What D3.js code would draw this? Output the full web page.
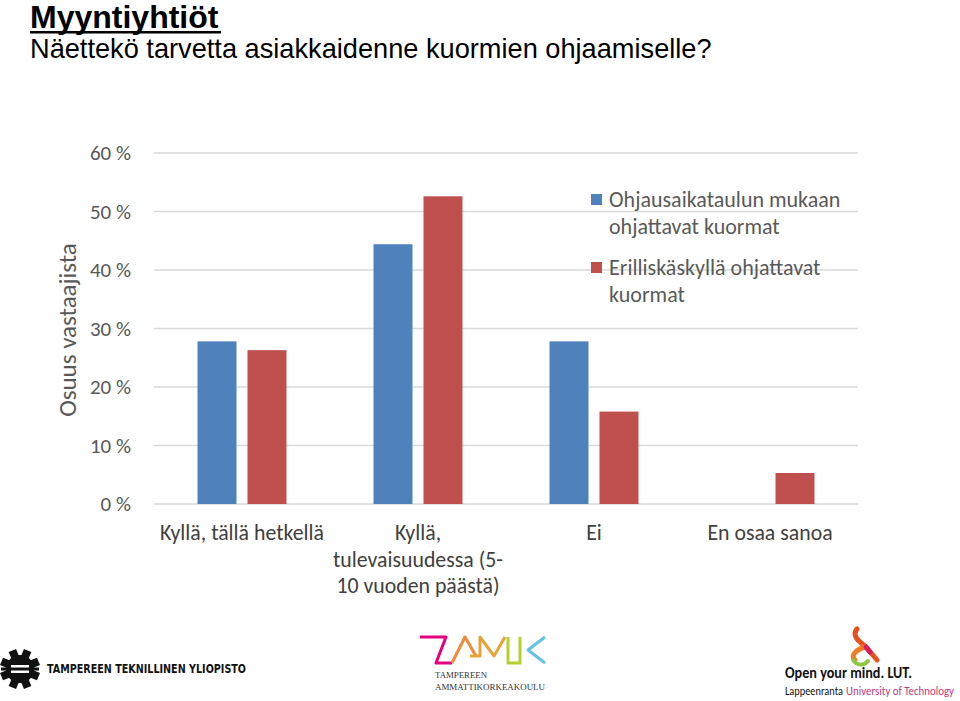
<!DOCTYPE html>
<html><head><meta charset="utf-8">
<script src="https://cdn.jsdelivr.net/npm/d3@7"></script>
<style>body{margin:0;background:#fff;} svg{display:block;}</style>
</head><body>
<script>
const categories = [["Kyllä, tällä hetkellä"], ["Kyllä,", "tulevaisuudessa (5-", "10 vuoden päästä)"], ["Ei"], ["En osaa sanoa"]];
const seriesNames = [["Ohjausaikataulun mukaan", "ohjattavat kuormat"], ["Erilliskäskyllä ohjattavat", "kuormat"]];
const seriesA = [0.278, 0.444, 0.278, 0];
const seriesB = [0.263, 0.526, 0.158, 0.053];
const yTicks = [0, 0.1, 0.2, 0.3, 0.4, 0.5, 0.6];
const colors = ["#4f81bd", "#c0504d"];

const W = 960, H = 701;
const svg = d3.select("body").append("svg").attr("width", W).attr("height", H);
const font = "Carlito, Lato, 'Open Sans', sans-serif";

// Titles
svg.append("text").attr("x", 30).attr("y", 28).attr("font-family", "Arial, 'Liberation Sans', sans-serif")
  .attr("font-weight", "bold").attr("font-size", 32).attr("fill", "#000").text("Myyntiyhtiöt");
svg.append("rect").attr("x", 30).attr("y", 31).attr("width", 191).attr("height", 2.5).attr("fill", "#000");
svg.append("text").attr("x", 30).attr("y", 58).attr("font-family", "Arial, 'Liberation Sans', sans-serif")
  .attr("font-size", 27.2).attr("fill", "#000").text("Näettekö tarvetta asiakkaidenne kuormien ohjaamiselle?");

const x0 = 154, x1 = 858, yTop = 153, yBot = 504;
const x = d3.scaleBand().domain(d3.range(categories.length)).range([x0, x1]).paddingInner(0).paddingOuter(0);
const xs = d3.scaleBand().domain([0, 1]).range([0, 89]).paddingInner(0.22);
const y = d3.scaleLinear().domain([0, 0.6]).range([yBot, yTop]);

// gridlines
svg.append("g").selectAll("line").data(yTicks).join("line")
  .attr("x1", x0).attr("x2", x1).attr("y1", d => y(d)).attr("y2", d => y(d))
  .attr("stroke", "#d9d9d9").attr("stroke-width", 1.5);

// y axis labels
const yAxis = d3.axisLeft(y).tickValues(yTicks).tickSize(0).tickPadding(0)
  .tickFormat(d => Math.round(d * 100) + " %");
const ya = svg.append("g").attr("transform", `translate(131,0)`).call(yAxis);
ya.select(".domain").remove();
ya.selectAll("text").attr("font-family", font).attr("font-size", 21).attr("fill", "#595959");

svg.append("text").attr("transform", `translate(76,330) rotate(-90)`).attr("text-anchor", "middle")
  .attr("font-family", font).attr("font-size", 25).attr("fill", "#595959").text("Osuus vastaajista");

// bars
const groups = svg.append("g").selectAll("g").data(categories.map((c, i) => i)).join("g")
  .attr("transform", i => `translate(${x(i) + (x.bandwidth() - 89) / 2},0)`);
groups.selectAll("rect").data(i => [seriesA[i], seriesB[i]]).join("rect")
  .attr("x", (d, j) => xs(j)).attr("width", xs.bandwidth())
  .attr("y", d => y(d)).attr("height", d => yBot - y(d))
  .attr("fill", (d, j) => colors[j]);

// x labels
categories.forEach((lines, i) => {
  const t = svg.append("text").attr("text-anchor", "middle").attr("font-family", font)
    .attr("font-size", 21.8).attr("fill", "#404040");
  lines.forEach((l, k) => t.append("tspan").attr("x", x(i) + x.bandwidth() / 2).attr("y", 540 + k * 26.5).text(l));
});

// legend
seriesNames.forEach((lines, j) => {
  const ly = 194 + j * 68;
  svg.append("rect").attr("x", 591).attr("y", ly).attr("width", 11).attr("height", 11).attr("fill", colors[j]);
  const t = svg.append("text").attr("font-family", font).attr("font-size", 22).attr("fill", "#595959");
  lines.forEach((l, k) => t.append("tspan").attr("x", 609).attr("y", ly + 13 + k * 27).text(l));
});

// ---- Logos ----
// TUT gear
const gear = svg.append("g").attr("transform", "translate(20,669)");
gear.append("circle").attr("r", 14).attr("fill", "#111");
for (let a = 0; a < 8; a++) {
  gear.append("rect").attr("x", -4).attr("y", -20).attr("width", 8).attr("height", 9).attr("fill", "#111")
    .attr("transform", `rotate(${a * 45 + 22.5})`);
}
gear.append("rect").attr("x", -9).attr("y", -4).attr("width", 18).attr("height", 8).attr("fill", "#fff");
gear.append("rect").attr("x", -19).attr("y", -1.5).attr("width", 38).attr("height", 3).attr("fill", "#111");
svg.append("text").attr("x", 47).attr("y", 673).attr("font-family", "'DejaVu Sans Condensed', 'DejaVu Sans', sans-serif")
  .attr("font-size", 12).attr("font-weight", "bold").attr("fill", "#111")
  .attr("textLength", 199).attr("lengthAdjust", "spacingAndGlyphs")
  .text("TAMPEREEN TEKNILLINEN YLIOPISTO");

// TAMK logo
const tk = svg.append("g").attr("fill", "none").attr("stroke-width", 3).attr("stroke-linejoin", "round");
tk.append("path").attr("d", "M420,637 H446 L436,663 H452").attr("stroke", "#e5007d");
tk.append("path").attr("d", "M452,663 L465,637 L476,656").attr("stroke", "#ef8a3a");
tk.append("path").attr("d", "M470,656 H480 V637 L494,656 L505,637").attr("stroke", "#e7a33a");
tk.append("path").attr("d", "M508,637 V663 H520 V637").attr("stroke", "#b6cf2d");
tk.append("path").attr("d", "M545,637 L528,650 L545,663").attr("stroke", "#62c3e4");
svg.append("text").attr("x", 435).attr("y", 678).attr("font-family", "'Liberation Serif', serif").attr("font-size", 8)
  .attr("textLength", 52).attr("lengthAdjust", "spacingAndGlyphs").attr("fill", "#333").text("TAMPEREEN");
svg.append("text").attr("x", 435).attr("y", 690).attr("font-family", "'Liberation Serif', serif").attr("font-size", 8)
  .attr("textLength", 110).attr("lengthAdjust", "spacingAndGlyphs").attr("fill", "#333").text("AMMATTIKORKEAKOULU");

// LUT logo
const amp = svg.append("g").attr("fill", "none").attr("stroke-linecap", "round");
amp.append("path").attr("d", "M857,629 C851,636 860,642 866,647 L877,660").attr("stroke", "#e8511f").attr("stroke-width", 5);
amp.append("path").attr("d", "M866,647 C856,649 850,656 855,660").attr("stroke", "#f07d1f").attr("stroke-width", 5);
amp.append("path").attr("d", "M866,647 L870,652").attr("stroke", "#d91c5c").attr("stroke-width", 5);
amp.append("path").attr("d", "M853,660 C857,666 864,666 868,661").attr("stroke", "#8cc63f").attr("stroke-width", 4);
svg.append("text").attr("x", 785).attr("y", 678).attr("font-family", "Carlito, 'Open Sans', sans-serif")
  .attr("font-size", 15).attr("font-weight", "bold").attr("fill", "#111")
  .attr("textLength", 127).attr("lengthAdjust", "spacingAndGlyphs").text("Open your mind. LUT.");
svg.append("text").attr("x", 785).attr("y", 695).attr("font-family", "Carlito, 'Open Sans', sans-serif")
  .attr("font-size", 11.5).attr("fill", "#111")
  .attr("textLength", 58).attr("lengthAdjust", "spacingAndGlyphs").text("Lappeenranta");
svg.append("text").attr("x", 846).attr("y", 695).attr("font-family", "Carlito, 'Open Sans', sans-serif")
  .attr("font-size", 11.5).attr("fill", "#c2387a")
  .attr("textLength", 108).attr("lengthAdjust", "spacingAndGlyphs").text("University of Technology");
</script>
</body></html>
